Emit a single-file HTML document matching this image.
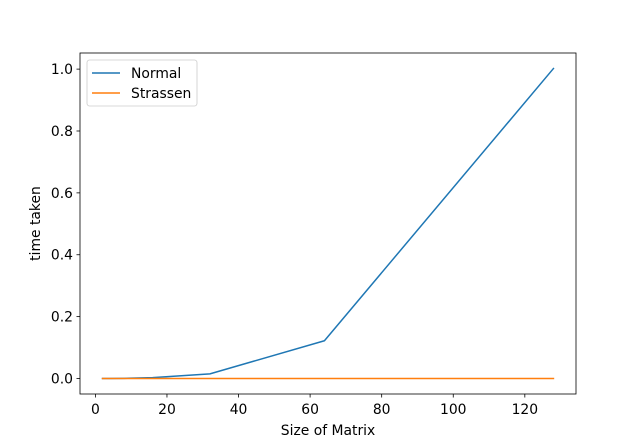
<!DOCTYPE html>
<html><head><meta charset="utf-8"><style>
body{margin:0;background:#fff;}
svg{display:block;font-family:"DejaVu Sans","Liberation Sans",sans-serif;}
</style></head><body>
<svg id="chart" width="640" height="443" viewBox="0 0 640 443">
<rect x="0" y="0" width="640" height="443" fill="#fff"/>
<g id="plot"></g>
</svg>
<script>
const sizes = [2, 4, 8, 16, 32, 64, 128];
const normalTimes = [0.0, 0.0, 0.0005, 0.003, 0.015, 0.122, 1.002];
const strassenTimes = [0.0, 0.0, 0.0, 0.0, 0.0, 0.0, 0.0];
const xTicks = [0, 20, 40, 60, 80, 100, 120];
const yTicks = [0.0, 0.2, 0.4, 0.6, 0.8, 1.0];
const yTickLabels = ["0.0", "0.2", "0.4", "0.6", "0.8", "1.0"];

const L=80,R=576,T=53,B=394;
const xmin=-4.3,xmax=134.3,ymin=-0.0501,ymax=1.0521;
const FS=13.9;
const sx=v=>L+(v-xmin)/(xmax-xmin)*(R-L);
const sy=v=>B-(v-ymin)/(ymax-ymin)*(B-T);
const NS="http://www.w3.org/2000/svg";
const g=document.getElementById('plot');
function mk(tag,attrs,parent){const e=document.createElementNS(NS,tag);for(const k in attrs)e.setAttribute(k,attrs[k]);(parent||g).appendChild(e);return e;}

xTicks.forEach(v=>{
  const x=sx(v);
  const t=mk('line',{x1:x,x2:x,y1:B,y2:B+3.5,stroke:'#000','stroke-width':0.8});
  
  
  const l=mk('text',{x:x,y:B+20,'text-anchor':'middle','font-size':FS});
  l.textContent=String(v);
  
  
});
yTicks.forEach((v,i)=>{
  const y=sy(v);
  const t=mk('line',{x1:L-3.5,x2:L,y1:y,y2:y,stroke:'#000','stroke-width':0.8});
  
  
  const l=mk('text',{x:L-7,y:y+5,'text-anchor':'end','font-size':FS});
  l.textContent=yTickLabels[i];
  
  
});

function series(vals,color,name){
  const pts=sizes.map((s,i)=>sx(s).toFixed(2)+','+sy(vals[i]).toFixed(2)).join(' ');
  const p=mk('polyline',{points:pts,fill:'none',stroke:color,'stroke-width':1.5,'stroke-linejoin':'round','stroke-linecap':'square'});
  
  
}
series(normalTimes,'#1f77b4','normal-line');
series(strassenTimes,'#ff7f0e','strassen-line');

const frame=mk('rect',{x:L,y:T,width:R-L,height:B-T,fill:'none',stroke:'#000','stroke-width':0.8});



const xt=mk('text',{x:(L+R)/2,y:435,'text-anchor':'middle','font-size':FS});
xt.textContent='Size of Matrix';


const yt=mk('text',{x:0,y:0,'text-anchor':'middle','font-size':FS,transform:'translate(40,'+((T+B)/2)+') rotate(-90)'});
yt.textContent='time taken';



const leg=mk('g',{});


mk('rect',{x:87,y:60,width:110,height:46,rx:2.5,fill:'#fff','fill-opacity':0.8,stroke:'#ccc','stroke-width':0.8},leg);
[['Normal','#1f77b4',73],['Strassen','#ff7f0e',93]].forEach(([n,c,y])=>{
  const e=mk('g',{},leg);
  
  
  mk('line',{x1:92,x2:120,y1:y,y2:y,stroke:c,'stroke-width':1.5},e);
  const t=mk('text',{x:131,y:y+5,'font-size':FS},e);
  t.textContent=n;
});
</script>
</body></html>
